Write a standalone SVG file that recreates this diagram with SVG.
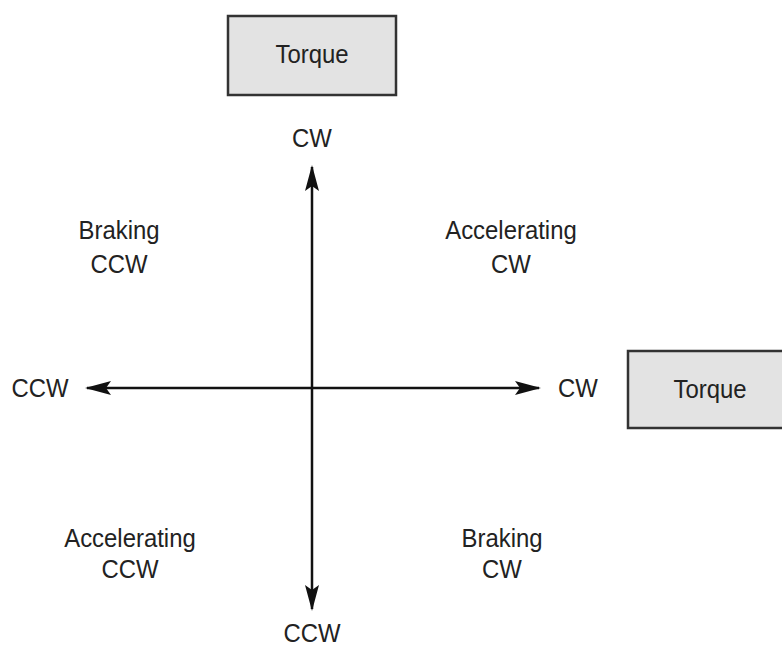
<svg xmlns="http://www.w3.org/2000/svg" width="782" height="647" viewBox="0 0 782 647">
<style>
.t{font-family:"Liberation Sans",Arial,sans-serif;font-size:26px;fill:#222;text-anchor:middle}
.box{fill:#e3e3e3;stroke:#333;stroke-width:2.5}
.ax{stroke:#111;stroke-width:2.5;fill:none}
</style>
<defs>
<marker id="ah" viewBox="0 0 26 14" refX="24" refY="7" markerWidth="26" markerHeight="14" markerUnits="userSpaceOnUse" orient="auto-start-reverse">
<path d="M0,0 L26,7 L0,14 L5,7 Z" fill="#111"/>
</marker>
</defs>
<rect width="782" height="647" fill="#fff"/>
<g id="torque-top">
<rect class="box" x="228" y="16" width="168" height="79"/>
<text class="t" transform="translate(312,63) scale(0.92,1)">Torque</text>
</g>
<g id="torque-right">
<rect class="box" x="628" y="351" width="160" height="77"/>
<text class="t" transform="translate(710,398) scale(0.92,1)">Torque</text>
</g>
<g id="connectors">
<line class="ax" x1="312" y1="167" x2="312" y2="609" marker-start="url(#ah)" marker-end="url(#ah)"/>
<line class="ax" x1="87" y1="388" x2="539" y2="388" marker-start="url(#ah)" marker-end="url(#ah)"/>
</g>
<g id="labels">
<text class="t" transform="translate(312,147) scale(0.92,1)">CW</text>
<text class="t" transform="translate(119,239) scale(0.92,1)">Braking</text>
<text class="t" transform="translate(119,273) scale(0.92,1)">CCW</text>
<text class="t" transform="translate(511,239) scale(0.92,1)">Accelerating</text>
<text class="t" transform="translate(511,273) scale(0.92,1)">CW</text>
<text class="t" transform="translate(40,397) scale(0.92,1)">CCW</text>
<text class="t" transform="translate(578,397) scale(0.92,1)">CW</text>
<text class="t" transform="translate(130,547) scale(0.92,1)">Accelerating</text>
<text class="t" transform="translate(130,578) scale(0.92,1)">CCW</text>
<text class="t" transform="translate(502,547) scale(0.92,1)">Braking</text>
<text class="t" transform="translate(502,578) scale(0.92,1)">CW</text>
<text class="t" transform="translate(312,642) scale(0.92,1)">CCW</text>
</g>
</svg>
